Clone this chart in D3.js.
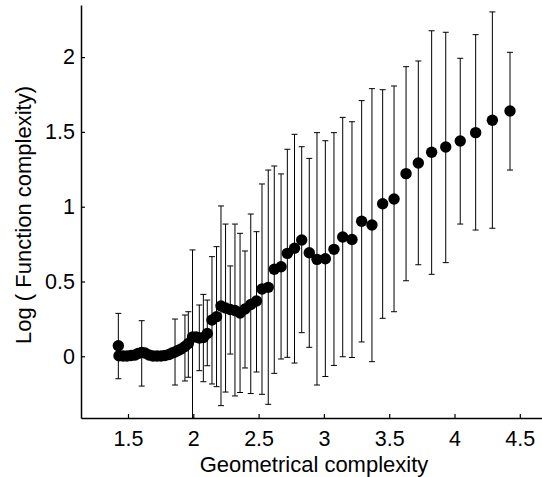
<!DOCTYPE html>
<html><head><meta charset="utf-8">
<script src="https://cdn.jsdelivr.net/npm/d3@7"></script>
<style>body{margin:0;background:#fff}svg{display:block}text{font-family:"Liberation Sans",Arial,Helvetica,sans-serif}</style>
</head><body>
<svg id="c" width="542" height="477"></svg>
<script>
// Points with error bars
const gx = [1.426,1.605,1.860,1.936,1.962,1.994,2.046,2.077,2.107,2.143,2.178,2.212,2.247,2.283,2.319,2.358,2.396,2.440,2.484,2.526,2.574,2.620,2.672,2.720,2.775,2.830,2.888,2.947,3.011,3.077,3.144,3.215,3.289,3.368,3.450,3.537,3.629,3.723,3.825,3.933,4.044,4.162,4.290,4.425];
const gy = [0.071,0.025,0.029,0.066,0.086,0.129,0.122,0.126,0.152,0.243,0.265,0.336,0.323,0.313,0.306,0.289,0.316,0.346,0.370,0.450,0.461,0.582,0.599,0.688,0.722,0.777,0.692,0.648,0.652,0.715,0.797,0.781,0.903,0.878,1.020,1.051,1.221,1.292,1.364,1.399,1.439,1.495,1.578,1.640];
const gHi = [0.287,0.238,0.249,0.276,0.298,0.711,0.343,0.414,0.376,0.666,0.733,1.005,0.884,0.604,0.884,0.822,0.704,0.951,0.833,1.152,1.245,1.272,1.219,1.384,1.484,1.401,1.323,1.495,1.441,1.495,1.597,1.568,1.709,1.789,1.782,1.807,1.936,1.974,2.176,2.166,1.992,2.150,2.302,2.032];
const gLo = [-0.150,-0.199,-0.192,-0.165,-0.140,-0.45,-0.096,-0.170,-0.063,-0.185,-0.203,-0.330,-0.239,0.015,-0.265,-0.242,-0.078,-0.249,-0.105,-0.254,-0.321,-0.114,-0.018,-0.007,-0.045,0.158,0.060,-0.192,-0.135,-0.061,-0.003,-0.008,0.096,-0.036,0.254,0.298,0.505,0.612,0.548,0.626,0.884,0.844,0.856,1.245];
// Extra dense points (single samples, no spread)
const sx = [1.431,1.462,1.492,1.523,1.554,1.577,1.630,1.661,1.691,1.722,1.753,1.783,1.814,1.837,1.883,1.906,2.021];
const sy = [0.004,0.002,0.002,0.005,0.009,0.019,0.022,0.009,0.002,0.002,0.002,0.005,0.012,0.022,0.039,0.049,0.129];
const xTicks = [1.5,2,2.5,3,3.5,4,4.5];
const yTicks = [0,0.5,1,1.5,2];
const xTitle = "Geometrical complexity";
const yTitle = "Log ( Function complexity)";

const svg = d3.select("#c");
const L=81,R=542,T=5,B=418;
const x = d3.scaleLinear().domain([1.5-47/130.6, 1.5+(R-128)/130.6]).range([L,R]);
const y = d3.scaleLinear().domain([-(B-356.3)/149.6, (356.3-T)/149.6]).range([B,T]);

svg.append("defs").append("clipPath").attr("id","clip")
  .append("rect").attr("x",L).attr("y",T).attr("width",R-L).attr("height",B-T);

const gBars = svg.append("g").attr("clip-path","url(#clip)").attr("stroke","#000").attr("stroke-width",1);
const idx = d3.range(gx.length);
gBars.selectAll("line.v").data(idx).join("line").attr("class","v")
  .attr("x1",i=>x(gx[i])).attr("x2",i=>x(gx[i]))
  .attr("y1",i=>y(gHi[i])).attr("y2",i=>y(gLo[i]));
gBars.selectAll("line.t").data(idx).join("line").attr("class","t")
  .attr("x1",i=>x(gx[i])-3).attr("x2",i=>x(gx[i])+3)
  .attr("y1",i=>y(gHi[i])).attr("y2",i=>y(gHi[i]));
gBars.selectAll("line.b").data(idx).join("line").attr("class","b")
  .attr("x1",i=>x(gx[i])-3).attr("x2",i=>x(gx[i])+3)
  .attr("y1",i=>y(gLo[i])).attr("y2",i=>y(gLo[i]));

const gPts = svg.append("g").attr("fill","#000");
gPts.selectAll("circle.s").data(d3.range(sx.length)).join("circle").attr("class","s")
  .attr("cx",i=>x(sx[i])).attr("cy",i=>y(sy[i])).attr("r",5.7);
gPts.selectAll("circle.g").data(idx).join("circle").attr("class","g")
  .attr("cx",i=>x(gx[i])).attr("cy",i=>y(gy[i])).attr("r",5.7);

const xa = svg.append("g").attr("transform",`translate(0,${B})`)
  .call(d3.axisBottom(x).tickValues(xTicks).tickFormat(d3.format("")).tickSizeInner(-4).tickSizeOuter(0).tickPadding(13));
const ya = svg.append("g").attr("transform",`translate(${L},0)`)
  .call(d3.axisLeft(y).tickValues(yTicks).tickFormat(d3.format("")).tickSizeInner(-4).tickSizeOuter(0).tickPadding(6));
[xa,ya].forEach(a=>{
  a.select(".domain").attr("stroke","#000").attr("stroke-width",1.5);
  a.selectAll(".tick line").attr("stroke","#000").attr("stroke-width",1.2);
  a.selectAll("text").attr("font-size",21.5).attr("fill","#000").attr("font-family",'"Liberation Sans",Arial,sans-serif');
});

svg.append("text").attr("x",314).attr("y",471.5).attr("text-anchor","middle")
  .attr("font-size",22).text(xTitle);
svg.append("text").attr("transform","translate(31,215) rotate(-90)").attr("text-anchor","middle")
  .attr("font-size",22).text(yTitle);
</script>
</body></html>
